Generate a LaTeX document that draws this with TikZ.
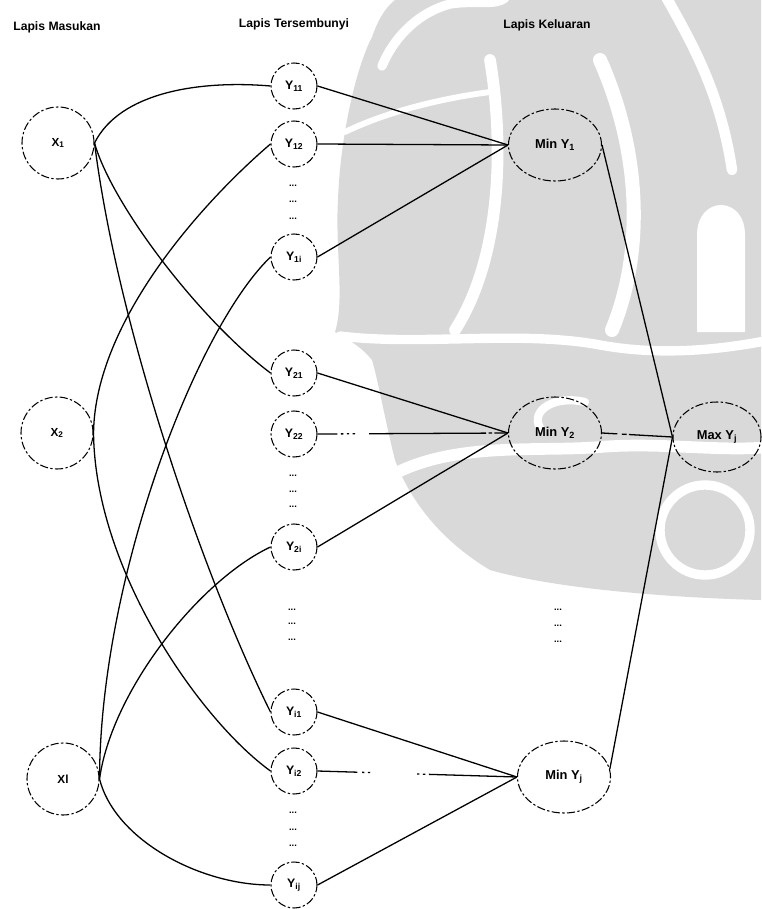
\documentclass[tikz,border=0pt]{standalone}
\usepackage{fontspec}
\setmainfont{Liberation Sans}
\usetikzlibrary{shapes.geometric}
\definecolor{wm}{HTML}{D9D9D9}
\tikzset{
  outline/.style={draw=black, line width=0.9pt, dash pattern=on 7pt off 2pt on 2pt off 2pt},
  inputnode/.style={circle, outline, minimum size=2.16cm, inner sep=0pt, font=\bfseries\fontsize{10}{12}\selectfont},
  hiddennode/.style={circle, outline, minimum size=1.38cm, inner sep=0pt, font=\bfseries\fontsize{10.5}{12}\selectfont},
  outputnode/.style={ellipse, outline, minimum width=2.79cm, minimum height=2.16cm, inner sep=0pt, font=\bfseries\fontsize{11}{13}\selectfont},
  layertitle/.style={font=\bfseries\fontsize{10.4}{12}\selectfont, inner sep=0pt},
  dotsnode/.style={font=\bfseries\fontsize{8}{9}\selectfont, inner sep=0pt},
  link/.style={draw=black, line width=1.1pt},
  gaplink/.style={link, dash pattern=on 17pt off 3pt on 2pt off 3pt on 2pt off 3pt on 2pt off 12pt on 100pt off 2pt on 3pt off 2pt on 40pt},
  gaplinkb/.style={link, dash pattern=on 34pt off 4pt on 2pt off 3pt on 2pt off 40pt on 2pt off 3pt on 2pt off 3pt on 200pt},
  gaplinkc/.style={link, dash pattern=on 13pt off 4pt on 4pt off 2pt on 200pt},
  band/.style={draw=white, line width=#1, line cap=round},
}
\begin{document}
\begin{tikzpicture}[x=0.03cm,y=-0.03cm]
\useasboundingbox (0,0) rectangle (761,909);
\fill[white] (0,0) rectangle (761,909);

% faint emblem in the background
\fill[wm] (395,0) -- (761,0) -- (761,600)
  .. controls (680,598) and (560,590) .. (490,570)
  .. controls (440,540) and (410,500) .. (395,460)
  .. controls (385,420) and (378,380) .. (372,360)
  .. controls (360,345) and (345,338) .. (335,332)
  .. controls (345,300) and (335,250) .. (338,200)
  .. controls (340,140) and (355,70) .. (372,37)
  .. controls (378,20) and (385,8) .. (395,0) -- cycle;
\draw[band=8pt] (382,66) .. controls (395,35) and (420,12) .. (450,4) .. controls (475,0) and (495,6) .. (505,-2);
\draw[band=5pt] (345,132) .. controls (380,115) and (430,100) .. (490,92);
\draw[band=10pt] (490,60) .. controls (505,150) and (500,260) .. (455,330);
\draw[band=12pt] (600,60) .. controls (640,150) and (645,250) .. (612,330);
\draw[band=9pt] (665,-5) .. controls (690,40) and (720,90) .. (732,170);
\fill[white] (697,332) -- (697,235) .. controls (697,195) and (745,195) .. (745,235) -- (745,332) -- cycle;
\draw[band=8pt] (340,336) .. controls (420,346) and (520,330) .. (600,345) .. controls (660,356) and (720,350) .. (770,340);
\draw[band=10pt] (398,472) .. controls (460,442) and (540,452) .. (600,447) .. controls (660,442) and (720,452) .. (770,447);
\draw[band=7pt] (585,402) .. controls (555,395) and (530,410) .. (540,428);
\draw[band=8pt] (705,530) circle [radius=45];

% layer titles
\node[layertitle] (tin)  at (57,27)  {Lapis Masukan};
\node[layertitle] (thid) at (294,24) {Lapis Tersembunyi};
\node[layertitle] (tout) at (547,25) {Lapis Keluaran};

% input layer
\node[inputnode] (x1) at (58,143) {X\textsubscript{1}};
\node[inputnode] (x2) at (57,433) {X\textsubscript{2}};
\node[inputnode] (xl) at (63,779) {Xl};

% hidden layer
\node[hiddennode] (y11) at (294,86)  {Y\textsubscript{11}};
\node[hiddennode] (y12) at (294,144) {Y\textsubscript{12}};
\node[hiddennode] (y1i) at (294,257) {Y\textsubscript{1i}};
\node[hiddennode] (y21) at (294,373) {Y\textsubscript{21}};
\node[hiddennode] (y22) at (294,434) {Y\textsubscript{22}};
\node[hiddennode] (y2i) at (294,547) {Y\textsubscript{2i}};
\node[hiddennode] (yi1) at (294,712) {Y\textsubscript{i1}};
\node[hiddennode] (yi2) at (294,771) {Y\textsubscript{i2}};
\node[hiddennode] (yij) at (294,885) {Y\textsubscript{ij}};

% ellipsis marks between hidden nodes
\foreach \yy [count=\k] in {186,202,219} \node[dotsnode] (da\k) at (293,\yy) {...};
\foreach \yy [count=\k] in {476,492,507} \node[dotsnode] (db\k) at (293,\yy) {...};
\foreach \yy [count=\k] in {610,624,640} \node[dotsnode] (dc\k) at (292,\yy) {...};
\foreach \yy [count=\k] in {813,830,846} \node[dotsnode] (dd\k) at (293,\yy) {...};
\foreach \yy [count=\k] in {610,626,642} \node[dotsnode] (de\k) at (558,\yy) {...};

% output layer
\node[outputnode] (miny1) at (555,145) {Min Y\textsubscript{1}};
\node[outputnode] (miny2) at (555,433) {Min Y\textsubscript{2}};
\node[outputnode] (minyj) at (564,777) {Min Y\textsubscript{j}};
\node[outputnode, minimum width=2.64cm, minimum height=2.1cm] (maxyj) at (717,437) {Max Y\textsubscript{j}};

% input to hidden
\draw[link] (x1.east) .. controls (120,92) and (200,80) .. (y11.west);
\draw[link] (x1.east) .. controls (112,205) and (200,320) .. (y21.west);
\draw[link] (x1.east) .. controls (118,330) and (205,580) .. (yi1.west);
\draw[link] (x2.east) .. controls (95,320) and (205,200) .. (y12.west);
\draw[link] (x2.east) .. controls (95,570) and (200,720) .. (yi2.west);
\draw[link] (xl.east) .. controls (100,580) and (195,330) .. (y1i.west);
\draw[link] (xl.east) .. controls (112,690) and (200,580) .. (y2i.west);
\draw[link] (xl.east) .. controls (115,840) and (200,885) .. (yij.west);

% hidden to output
\draw[link] (y11.east) -- (miny1.west);
\draw[link] (y12.east) -- (miny1.west);
\draw[link] (y1i.east) -- (miny1.west);
\draw[link] (y21.east) -- (miny2.west);
\draw[gaplink] (y22.east) -- (miny2.west);
\draw[link] (y2i.east) -- (miny2.west);
\draw[link] (yi1.east) -- (minyj.west);
\draw[gaplinkb] (yi2.east) -- (minyj.west);
\draw[link] (yij.east) -- (minyj.west);

% output to final node
\draw[link] (miny1.east) -- (maxyj.west);
\draw[gaplinkc] (miny2.east) -- (maxyj.west);
\draw[link] (minyj.10) -- (maxyj.west);
\end{tikzpicture}
\end{document}
